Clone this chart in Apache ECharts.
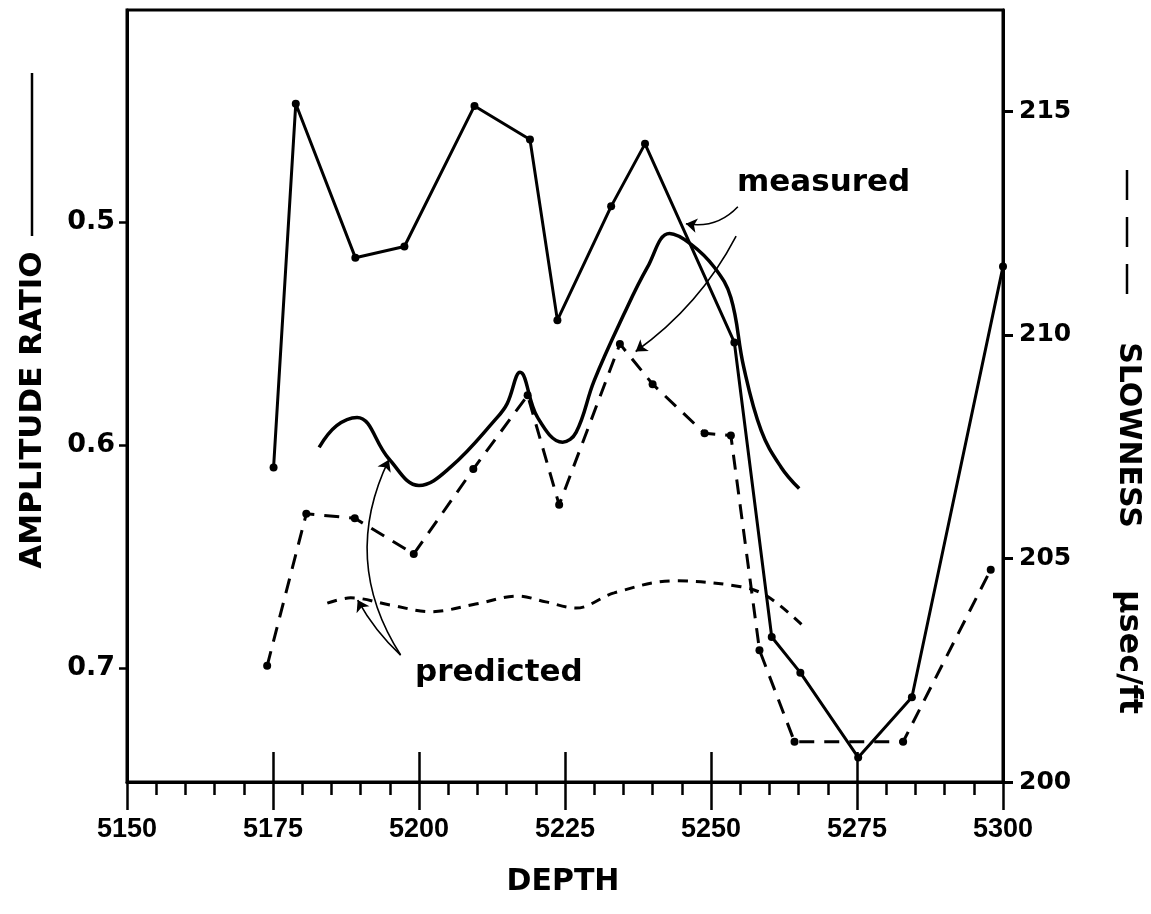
<!DOCTYPE html>
<html><head><meta charset="utf-8">
<script src="https://cdn.jsdelivr.net/npm/echarts@6/dist/echarts.min.js"></script>
<style>html,body{margin:0;padding:0;background:#fff}#c{width:1151px;height:914px}</style>
</head><body><div id="c"></div>
<script>
// ---- tick labels ----
const depthTicks = [5150, 5175, 5200, 5225, 5250, 5275, 5300];
const ampTicks = [0.5, 0.6, 0.7];
const slowTicks = [200, 205, 210, 215];

// ---- measured amplitude ratio (solid, dots) ----
const measAmpDepth = [5175.1, 5178.9, 5189.1, 5197.5, 5209.5, 5219.0, 5223.7, 5232.9, 5238.7, 5254.0, 5260.4, 5265.3, 5275.2, 5284.4, 5300.0];
const measAmp      = [0.610, 0.447, 0.516, 0.511, 0.448, 0.463, 0.544, 0.493, 0.465, 0.554, 0.686, 0.702, 0.740, 0.713, 0.520];

// ---- predicted amplitude ratio (smooth solid) ----
const predAmpDepth = [5182.9, 5185.9, 5189.4, 5194.8, 5200.0, 5205.4, 5213.4, 5215.1, 5217.3, 5220.3, 5224.6, 5226.9, 5230.0, 5235.1, 5239.1, 5242.9, 5246.6, 5250.6, 5253.4, 5255.6, 5258.6, 5262.0, 5265.1];
const predAmp      = [0.601, 0.5913, 0.5876, 0.606, 0.6181, 0.6099, 0.5876, 0.5814, 0.5674, 0.5876, 0.5987, 0.5943, 0.5711, 0.5413, 0.5204, 0.5052, 0.510, 0.5204, 0.5339, 0.565, 0.5935, 0.6099, 0.6195];

// ---- measured slowness (dashed, dots) ----
const measSlowDepth = [5174.0, 5180.7, 5189.0, 5199.1, 5209.3, 5218.6, 5224.0, 5234.4, 5240.0, 5248.9, 5253.4, 5258.3, 5264.3, 5282.9, 5297.9];
const measSlow      = [202.6, 206.0, 205.9, 205.1, 207.0, 208.65, 206.2, 209.8, 208.9, 207.8, 207.75, 202.95, 200.9, 200.9, 204.75];

// ---- predicted slowness (smooth dashed) ----
const predSlowDepth = [5184.3, 5188.3, 5195.1, 5202.0, 5209.7, 5216.9, 5221.7, 5226.9, 5233.4, 5243.7, 5255.1, 5259.7, 5265.7];
const predSlow      = [204.0, 204.12, 203.96, 203.81, 203.98, 204.16, 204.03, 203.89, 204.23, 204.5, 204.37, 204.15, 203.5];

// ---- annotation arrows (depth, slowness units) ----
const arrowFrom = [[5254.6, 212.87], [5254.3, 212.21], [5196.85, 202.84], [5196.85, 202.84]];
const arrowTo   = [[5245.7, 212.49], [5237.1, 209.63], [5194.85, 207.21], [5189.5, 204.07]];
const arrowBend = [0.27, 0.12, 0.28, 0.08];

const zip = (a, b) => a.map((v, i) => [v, b[i]]);
const FONT = '"DejaVu Sans", "Liberation Sans", sans-serif';
const FONT2 = '"Liberation Sans", Arial, sans-serif';

const chart = echarts.init(document.getElementById('c'), null, {renderer: 'canvas'});
const axisLbl = {color: '#000', fontFamily: FONT, fontWeight: 'bold'};

chart.setOption({
  animation: false,
  backgroundColor: '#fff',
  grid: {left: 127, right: 148, top: 10, bottom: 132, show: true, borderColor: '#000', borderWidth: 3, containLabel: false},
  xAxis: [{
    type: 'value', min: 5150, max: 5300, interval: 25, position: 'bottom',
    axisLine: {show: true, lineStyle: {color: '#000', width: 3}},
    axisTick: {show: true, length: 28, lineStyle: {color: '#000', width: 2.5}},
    minorTick: {show: true, splitNumber: 5, length: 13, lineStyle: {color: '#000', width: 2.5}},
    splitLine: {show: false},
    axisLabel: {color: '#000', fontFamily: FONT2, fontWeight: 'bold', fontSize: 27, margin: 34,
      customValues: depthTicks, formatter: v => String(v)}
  }, {
    type: 'value', min: 5150, max: 5300, interval: 25, position: 'bottom',
    axisLine: {show: false},
    axisTick: {show: true, inside: true, length: 30, lineStyle: {color: '#000', width: 2.5}},
    axisLabel: {show: false}, splitLine: {show: false}
  }],
  yAxis: [{
    type: 'value', inverse: true, min: 0.405, max: 0.751, position: 'left',
    axisLine: {show: true, lineStyle: {color: '#000', width: 3}},
    axisTick: {show: true, length: 8, customValues: ampTicks, lineStyle: {color: '#000', width: 2.5}},
    splitLine: {show: false},
    axisLabel: Object.assign({fontSize: 27, margin: 12, customValues: ampTicks,
      formatter: v => v.toFixed(1)}, axisLbl)
  }, {
    type: 'value', min: 200, max: 217.27, position: 'right',
    axisLine: {show: true, lineStyle: {color: '#000', width: 3}},
    axisTick: {show: true, length: 10, customValues: slowTicks, lineStyle: {color: '#000', width: 3}},
    splitLine: {show: false},
    axisLabel: Object.assign({fontSize: 25, margin: 16, customValues: slowTicks,
      formatter: v => String(v)}, axisLbl)
  }],
  series: [{
    name: 'measured amplitude ratio', type: 'line', xAxisIndex: 0, yAxisIndex: 0,
    data: zip(measAmpDepth, measAmp), clip: false,
    symbol: 'circle', symbolSize: 8, itemStyle: {color: '#000'},
    lineStyle: {color: '#000', width: 3}
  }, {
    name: 'predicted amplitude ratio', type: 'line', xAxisIndex: 0, yAxisIndex: 0,
    data: zip(predAmpDepth, predAmp), smooth: 0.4, showSymbol: false,
    lineStyle: {color: '#000', width: 3.5}
  }, {
    name: 'measured slowness', type: 'line', xAxisIndex: 0, yAxisIndex: 1,
    data: zip(measSlowDepth, measSlow), clip: false,
    symbol: 'circle', symbolSize: 8, itemStyle: {color: '#000'},
    lineStyle: {color: '#000', width: 3, type: [15, 10]}
  }, {
    name: 'predicted slowness', type: 'line', xAxisIndex: 0, yAxisIndex: 1,
    data: zip(predSlowDepth, predSlow), smooth: 0.35, showSymbol: false,
    lineStyle: {color: '#000', width: 3, type: [10, 8]}
  }, {
    name: 'arrows', type: 'lines', coordinateSystem: 'cartesian2d', xAxisIndex: 0, yAxisIndex: 1,
    symbol: ['none', 'arrow'], symbolSize: 11, silent: true,
    lineStyle: {color: '#000', width: 1.6, opacity: 1},
    data: arrowFrom.map((f, i) => ({coords: [f, arrowTo[i]], lineStyle: {curveness: arrowBend[i]}}))
  }],
  graphic: [
    {type: 'text', x: 33, y: 410, rotation: Math.PI / 2,
     style: {text: 'AMPLITUDE RATIO', font: 'bold 31px ' + FONT, fill: '#000', align: 'center', verticalAlign: 'middle'}},
    {type: 'line', shape: {x1: 32, y1: 73, x2: 32, y2: 236}, style: {stroke: '#000', lineWidth: 2.5}},
    {type: 'text', x: 1128, y: 435, rotation: -Math.PI / 2,
     style: {text: 'SLOWNESS', font: 'bold 30px ' + FONT, fill: '#000', align: 'center', verticalAlign: 'middle'}},
    {type: 'text', x: 1128, y: 652, rotation: -Math.PI / 2,
     style: {text: 'µsec/ft', font: 'bold 32px ' + FONT, fill: '#000', align: 'center', verticalAlign: 'middle'}},
    {type: 'line', shape: {x1: 1127, y1: 170, x2: 1127, y2: 310}, style: {stroke: '#000', lineWidth: 2.5, lineDash: [30, 17]}},
    {type: 'text', x: 563, y: 882,
     style: {text: 'DEPTH', font: 'bold 30px ' + FONT, fill: '#000', align: 'center', verticalAlign: 'middle'}},
    {type: 'text', x: 737, y: 183,
     style: {text: 'measured', font: 'bold 31px ' + FONT, fill: '#000', align: 'left', verticalAlign: 'middle'}},
    {type: 'text', x: 415, y: 673,
     style: {text: 'predicted', font: 'bold 31px ' + FONT, fill: '#000', align: 'left', verticalAlign: 'middle'}}
  ]
});
</script></body></html>
